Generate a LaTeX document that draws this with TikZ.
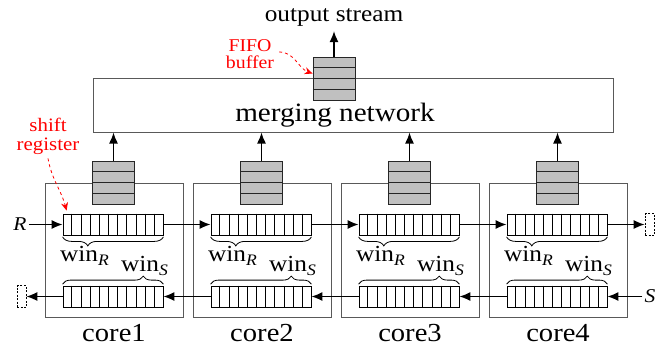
\documentclass[tikz,border=0pt]{standalone}
\usepackage{fontspec}
\setmainfont{Liberation Serif}[FakeStretch=1.1]
\usetikzlibrary{arrows.meta,decorations.pathreplacing,calc}
\definecolor{boxgray}{HTML}{595959}
\definecolor{fifogray}{HTML}{C0C0C0}
\definecolor{notered}{HTML}{FF0000}
\tikzset{
  corebox/.style={draw=boxgray, line width=1pt, minimum width=138pt, minimum height=134pt, inner sep=0pt},
  mergebox/.style={draw=boxgray, line width=1pt, minimum width=520pt, minimum height=54pt, inner sep=0pt},
  fifobox/.style={draw=black!85, fill=fifogray, line width=0.9pt, minimum width=42pt, minimum height=43pt, inner sep=0pt},
  regbox/.style={draw=black, line width=0.8pt, fill=white, minimum width=100pt, minimum height=21pt, inner sep=0pt},
  dashbox/.style={draw=black, line width=0.7pt, dash pattern=on 2pt off 1.5pt, minimum width=9pt, minimum height=22pt, inner sep=0pt},
  arr/.style={line width=1.4pt, -{Latex[length=11pt,width=9pt]}},
  redarr/.style={notered, dashed, line width=0.8pt, -{Stealth[length=8pt,width=7pt]}},
  bracebelow/.style={decorate, line width=0.8pt, decoration={brace, mirror, amplitude=9pt, aspect=0.25}},
  braceabove/.style={decorate, line width=0.8pt, decoration={brace, amplitude=8pt, aspect=0.8}},
  bigtext/.style={inner sep=0pt, font=\fontsize{26.5}{28}\selectfont},
  cortext/.style={inner sep=0pt, font=\fontsize{26}{28}\selectfont},
  midtext/.style={inner sep=0pt, font=\fontsize{23}{24}\selectfont},
  redtext/.style={inner sep=0pt, text=notered, align=center},
  iolbl/.style={inner sep=2pt, font=\fontsize{19.5}{20}\selectfont\itshape},
}
\newcommand{\subit}[1]{\raisebox{-4pt}{\fontsize{16}{16}\selectfont\itshape #1}}
\begin{document}
\begin{tikzpicture}[x=1pt,y=-1pt]
\useasboundingbox (0,0) rectangle (671,349);

% merging network
\node[mergebox] (merge) at (353,105) {};
\node[bigtext, anchor=base] (mergelbl) at (335,121) {merging network};

% cores
\foreach \i in {1,2,3,4} {
  \pgfmathsetmacro{\cx}{114+148*(\i-1)}
  \node[corebox] (core\i) at (\cx,250) {};
  \node[cortext, anchor=base] (corelbl\i) at (\cx,341) {core\i};
}

% core FIFOs
\foreach \i in {1,2,3,4} {
  \pgfmathsetmacro{\cx}{113.5+148*(\i-1)}
  \node[fifobox] (fifo\i) at (\cx,182.5) {};
  \foreach \k in {1,2,3}
    \draw[line width=0.9pt, black!85] ($(fifo\i.north west)!\k/4!(fifo\i.south west)$) -- ($(fifo\i.north east)!\k/4!(fifo\i.south east)$);
  \draw[arr] (fifo\i.north) -- (fifo\i.north |- merge.south);
}

% output FIFO
\node[fifobox] (outfifo) at (334,78.5) {};
\foreach \k in {1,2,3}
  \draw[line width=0.9pt, black!85] ($(outfifo.north west)!\k/4!(outfifo.south west)$) -- ($(outfifo.north east)!\k/4!(outfifo.south east)$);
\node[midtext, anchor=base] (outlbl) at (334,21) {output stream};
\draw[arr, shorten >=5pt] (outfifo.north) -- (outfifo.north |- outlbl.south);

% registers
\foreach \i in {1,2,3,4} {
  \pgfmathsetmacro{\cx}{113+148*(\i-1)}
  \node[regbox] (regu\i) at (\cx,224.5) {};
  \node[regbox] (regl\i) at (\cx,296.5) {};
  \foreach \k in {1,...,10} {
    \draw[line width=0.8pt] ($(regu\i.north west)!\k/11!(regu\i.north east)$) -- ($(regu\i.south west)!\k/11!(regu\i.south east)$);
    \draw[line width=0.8pt] ($(regl\i.north west)!\k/11!(regl\i.north east)$) -- ($(regl\i.south west)!\k/11!(regl\i.south east)$);
  }
  \draw[bracebelow] ([yshift=-1.5pt]regu\i.south west) -- ([yshift=-1.5pt]regu\i.south east);
  \draw[braceabove] ([yshift=1.5pt]regl\i.north west) -- ([yshift=1.5pt]regl\i.north east);
  \node[midtext, anchor=base] (winr\i) at (\cx-28.5,261) {win\subit{R}};
  \node[midtext, anchor=base] (wins\i) at (\cx+31.5,271) {win\subit{S}};
}

% input / output labels and dashed boxes
\node[iolbl] (Rlbl) at (20,224.5) {R};
\node[iolbl] (Slbl) at (650,296.5) {S};
\node[dashbox] (endr) at (649.5,224.5) {};
\node[dashbox] (endl) at (21.5,296.5) {};

% horizontal arrows
\draw[arr] (Rlbl.east) -- (regu1.west);
\draw[arr] (regu1.east) -- (regu2.west);
\draw[arr] (regu2.east) -- (regu3.west);
\draw[arr] (regu3.east) -- (regu4.west);
\draw[arr] (regu4.east) -- (endr.west);
\draw[arr] (Slbl.west) -- (regl4.east);
\draw[arr] (regl4.west) -- (regl3.east);
\draw[arr] (regl3.west) -- (regl2.east);
\draw[arr] (regl2.west) -- (regl1.east);
\draw[arr] (regl1.west) -- (endl.east);

% red annotations
\node[redtext, font=\fontsize{19}{19}\selectfont] (shiftlbl) at (48,136) {shift\\register};
\draw[redarr] ([yshift=-4pt]shiftlbl.south) to[out=-80, in=105] ([xshift=4pt,yshift=3pt]regu1.north west);
\node[redtext, font=\fontsize{18}{17.5}\selectfont] (fifolbl) at (250,54) {FIFO\\buffer};
\draw[redarr] ([xshift=5pt,yshift=2pt]fifolbl.east) to[out=0, in=160] ([yshift=5pt]outfifo.west);
\end{tikzpicture}
\end{document}
